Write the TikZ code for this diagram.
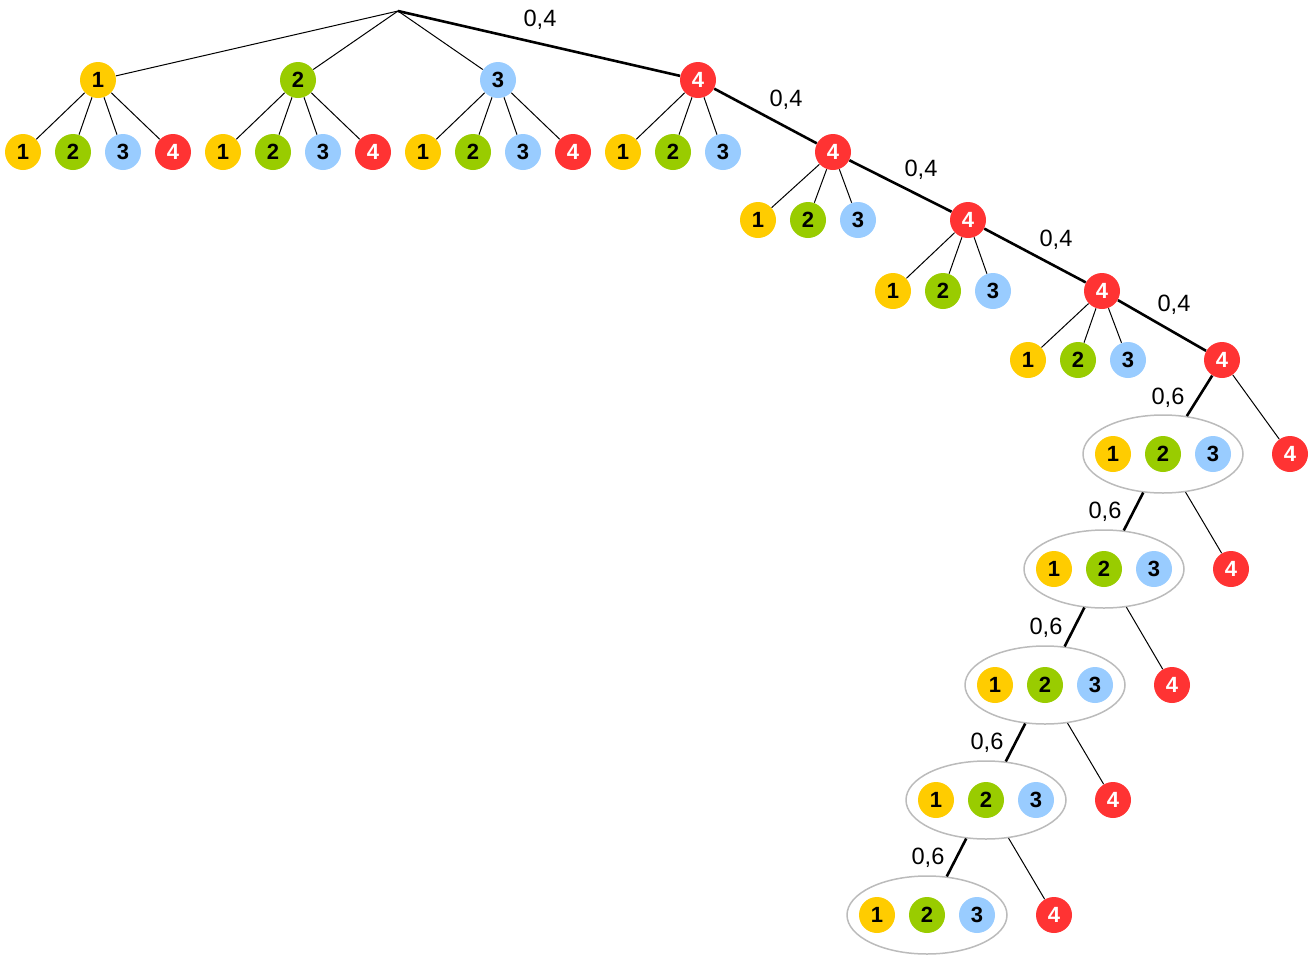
\documentclass[tikz,border=0pt]{standalone}
\usepackage{fontspec}
\setmainfont{Liberation Sans}
\usetikzlibrary{shapes.geometric}
\definecolor{ballyellow}{HTML}{FFCC00}
\definecolor{ballgreen}{HTML}{99CC00}
\definecolor{ballblue}{HTML}{99CCFF}
\definecolor{ballred}{HTML}{FF3333}
\definecolor{groupgray}{HTML}{BBBBBB}
\tikzset{
  ball/.style={circle, inner sep=0pt, minimum size=18pt, font=\bfseries\fontsize{11}{11}\selectfont},
  b1/.style={ball, fill=ballyellow},
  b2/.style={ball, fill=ballgreen},
  b3/.style={ball, fill=ballblue},
  b4/.style={ball, fill=ballred, text=white},
  group/.style={ellipse, draw=groupgray, line width=0.75pt, minimum width=80pt, minimum height=39pt},
  branch/.style={line width=0.5pt},
  best/.style={line width=1.3pt},
  prob/.style={font=\fontsize{11.8}{13}\selectfont}
}
\begin{document}
\begin{tikzpicture}[x=0.5pt, y=-0.5pt]
\useasboundingbox (0,0) rectangle (1314,960);
% first draw
\coordinate (root) at (398,11);
\node (a1)[b1] at (98,80) {1};
\node (a2)[b2] at (298,80) {2};
\node (a3)[b3] at (498,80) {3};
\node (a4)[b4] at (698,80) {4};
\draw[branch] (root) -- (a1);
\draw[branch] (root) -- (a2);
\draw[branch] (root) -- (a3);
\draw[best] (root) -- (a4);
\node (w1)[prob] at (540,20) {0,4};
% second draw
\foreach \p/\x in {1/23, 2/223, 3/423} {
  \foreach \k in {1,...,4} {
    \node (a\p\k)[b\k] at (\x+50*\k-50,152) {\k};
    \draw[branch] (a\p) -- (a\p\k);
  }
}
% the chain of fours
\node (c1)[b4] at (833,152) {4};
\node (c2)[b4] at (968,220) {4};
\node (c3)[b4] at (1102,291) {4};
\node (c4)[b4] at (1222,360) {4};
\draw[best] (a4) -- (c1);
\draw[best] (c1) -- (c2);
\draw[best] (c2) -- (c3);
\draw[best] (c3) -- (c4);
\node (w2)[prob] at (786,100) {0,4};
\node (w3)[prob] at (921,170) {0,4};
\node (w4)[prob] at (1056,240) {0,4};
\node (w5)[prob] at (1174,305) {0,4};
\foreach \p/\x/\y in {a4/623/152, c1/758/220, c2/893/291, c3/1028/360} {
  \foreach \k in {1,2,3} {
    \node (\p\k)[b\k] at (\x+50*\k-50,\y) {\k};
    \draw[branch] (\p) -- (\p\k);
  }
}
% groups of 1, 2, 3
\node (g1)[group] at (1163,454) {};
\node (g2)[group] at (1104,569) {};
\node (g3)[group] at (1045,685) {};
\node (g4)[group] at (986,800) {};
\node (g5)[group] at (927,915) {};
\foreach \g in {1,...,5} {
  \node (g\g a)[b1] at ([xshift=-25pt]g\g.center) {1};
  \node (g\g b)[b2] at (g\g.center) {2};
  \node (g\g c)[b3] at ([xshift=25pt]g\g.center) {3};
}
\node (r1)[b4] at (1290,454) {4};
\node (r2)[b4] at (1231,569) {4};
\node (r3)[b4] at (1172,685) {4};
\node (r4)[b4] at (1113,800) {4};
\node (r5)[b4] at (1054,915) {4};
\draw[best] (c4) -- (g1);
\draw[branch] (c4) -- (r1);
\draw[best] (g1) -- (g2);
\draw[branch] (g1) -- (r2);
\draw[best] (g2) -- (g3);
\draw[branch] (g2) -- (r3);
\draw[best] (g3) -- (g4);
\draw[branch] (g3) -- (r4);
\draw[best] (g4) -- (g5);
\draw[branch] (g4) -- (r5);
\node (v1)[prob] at (1168,398) {0,6};
\node (v2)[prob] at (1105,512) {0,6};
\node (v3)[prob] at (1046,628) {0,6};
\node (v4)[prob] at (987,743) {0,6};
\node (v5)[prob] at (928,858) {0,6};
\end{tikzpicture}
\end{document}
